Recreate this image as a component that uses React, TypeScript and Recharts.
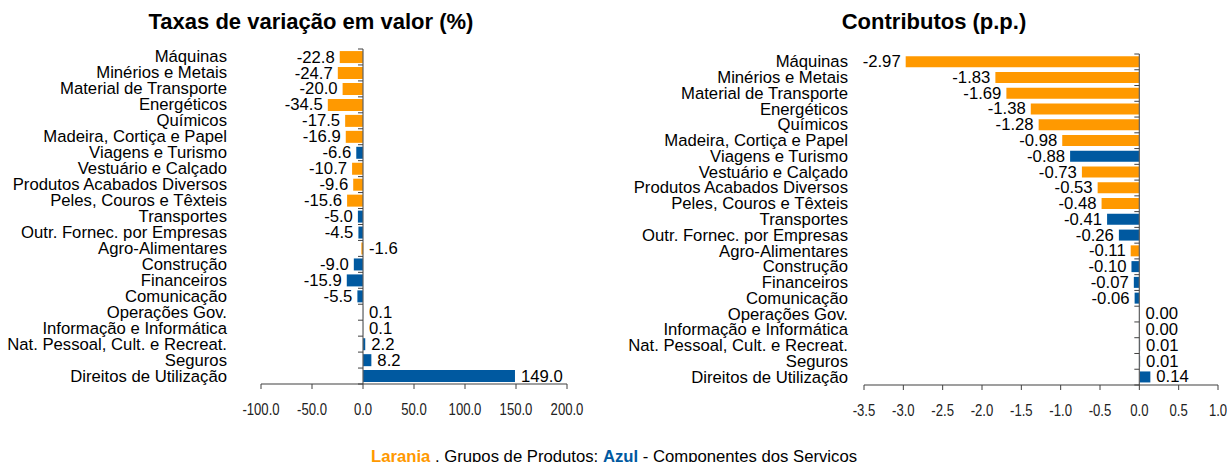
import React from "react";
import { BarChart, Bar, XAxis, YAxis, Cell, LabelList, ReferenceLine } from "recharts";

const categories = [
  "Máquinas",
  "Minérios e Metais",
  "Material de Transporte",
  "Energéticos",
  "Químicos",
  "Madeira, Cortiça e Papel",
  "Viagens e Turismo",
  "Vestuário e Calçado",
  "Produtos Acabados Diversos",
  "Peles, Couros e Têxteis",
  "Transportes",
  "Outr. Fornec. por Empresas",
  "Agro-Alimentares",
  "Construção",
  "Financeiros",
  "Comunicação",
  "Operações Gov.",
  "Informação e Informática",
  "Nat. Pessoal, Cult. e Recreat.",
  "Seguros",
  "Direitos de Utilização",
];

// P = Grupos de Produtos (laranja), S = Componentes dos Serviços (azul)
const groups = ["P", "P", "P", "P", "P", "P", "S", "P", "P", "P", "S", "S", "P", "S", "S", "S", "S", "S", "S", "S", "S"];

const rateValues = [-22.8, -24.7, -20.0, -34.5, -17.5, -16.9, -6.6, -10.7, -9.6, -15.6, -5.0, -4.5, -1.6, -9.0, -15.9, -5.5, 0.1, 0.1, 2.2, 8.2, 149.0];
const contribValues = [-2.97, -1.83, -1.69, -1.38, -1.28, -0.98, -0.88, -0.73, -0.53, -0.48, -0.41, -0.26, -0.11, -0.1, -0.07, -0.06, 0.002, 0.002, 0.01, 0.01, 0.14];

const rateTicks = [-100, -50, 0, 50, 100, 150, 200];
const contribTicks = [-3.5, -3.0, -2.5, -2.0, -1.5, -1.0, -0.5, 0.0, 0.5, 1.0];

// labels shown to the right of the axis although negative (as in the source)
const rateLabelsRight = ["Agro-Alimentares"];
const contribLabelsRight: string[] = [];

const ORANGE = "#FF9900";
const BLUE = "#0059A0";
const FONT = "'Liberation Sans', Arial, sans-serif";
const TXT = 16.7;

const rateData = categories.map((name, i) => ({ name, value: rateValues[i], group: groups[i] }));
const contribData = categories.map((name, i) => ({ name, value: contribValues[i], group: groups[i] }));

const AxisWithTicks = (props: any) => {
  const { x1, y1, x2, y2 } = props;
  const n = categories.length;
  const top = Math.min(y1, y2);
  const bottom = Math.max(y1, y2);
  const step = (bottom - top) / n;
  const marks = [];
  for (let i = 0; i <= n; i++) {
    const y = top + i * step;
    marks.push(<line key={i} x1={x1 - 5} x2={x1} y1={y} y2={y} stroke="#404040" strokeWidth={1} />);
  }
  return (
    <g>
      <line x1={x1} y1={top} x2={x2} y2={bottom} stroke="#606060" strokeWidth={1.2} />
      {marks}
    </g>
  );
};

const NarrowTick = (p: any) => (
  <text
    x={0}
    y={0}
    dy="0.71em"
    transform={`translate(${p.x},${p.y}) scale(0.82,1)`}
    textAnchor="middle"
    fontFamily={FONT}
    fontSize={16}
    fill="#222"
  >
    {Number(p.payload.value).toFixed(1)}
  </text>
);

type PanelProps = {
  data: { name: string; value: number; group: string }[];
  ticks: number[];
  decimals: number;
  width: number;
  height: number;
  margin: { top: number; right: number; bottom: number; left: number };
  yAxisWidth: number;
  catGap: number;
  gap: string;
  rightNames: string[];
};

const Panel = ({ data, ticks, decimals, width, height, margin, yAxisWidth, catGap, gap, rightNames }: PanelProps) => {
  const renderCatTick = (p: any) => (
    <text x={p.x} y={p.y} textAnchor="end" dominantBaseline="central" fontFamily={FONT} fontSize={TXT} fill="#000">
      {p.payload.value}
    </text>
  );

  const renderValueLabel = (p: any) => {
    const { x, y, width: w, height: h, value, index } = p;
    const left = Math.min(x, x + w);
    const right = Math.max(x, x + w);
    const cy = y + h / 2;
    const name = data[index]?.name;
    const text = Number(value).toFixed(decimals);
    if (value < 0 && !rightNames.includes(name)) {
      return (
        <text x={left - 5} y={cy} textAnchor="end" dominantBaseline="central" fontFamily={FONT} fontSize={TXT} fill="#000">
          {text}
        </text>
      );
    }
    return (
      <text x={right + 6} y={cy} textAnchor="start" dominantBaseline="central" fontFamily={FONT} fontSize={TXT} fill="#000">
        {text}
      </text>
    );
  };

  return (
    <BarChart width={width} height={height} data={data} layout="vertical" margin={margin} barCategoryGap={gap}>
      <XAxis
        type="number"
        domain={[ticks[0], ticks[ticks.length - 1]]}
        ticks={ticks}
        interval={0}
        allowDataOverflow
        axisLine={{ stroke: "#404040", strokeWidth: 1.2 }}
        tickLine={{ stroke: "#404040" }}
        tickSize={5}
        tickMargin={15}
        height={30}
        tick={NarrowTick}
      />
      <YAxis
        type="category"
        dataKey="name"
        width={yAxisWidth}
        axisLine={false}
        tickLine={false}
        tickSize={0}
        tickMargin={catGap}
        interval={0}
        tick={renderCatTick}
      />
      <Bar dataKey="value" isAnimationActive={false}>
        {data.map((d, i) => (
          <Cell key={i} fill={d.group === "P" ? ORANGE : BLUE} />
        ))}
        <LabelList dataKey="value" content={renderValueLabel} />
      </Bar>
      <ReferenceLine x={0} shape={AxisWithTicks} />
    </BarChart>
  );
};

const titleStyle: React.CSSProperties = {
  position: "absolute",
  top: 9,
  textAlign: "center",
  fontFamily: FONT,
  fontWeight: "bold",
  fontSize: 22,
  lineHeight: "26px",
  color: "#000",
  whiteSpace: "nowrap",
};

export default function App() {
  return (
    <div style={{ position: "absolute", left: 0, top: 0, width: 1227, height: 462, background: "#fff", overflow: "hidden" }}>
      <div style={{ ...titleStyle, left: 0, width: 622 }}>Taxas de variação em valor (%)</div>
      <div style={{ ...titleStyle, left: 640, width: 588 }}>Contributos (p.p.)</div>

      <div style={{ position: "absolute", left: 0, top: 0 }}>
        <Panel
          data={rateData}
          ticks={rateTicks}
          decimals={1}
          width={600}
          height={462}
          margin={{ top: 49, right: 33, bottom: 48, left: 0 }}
          yAxisWidth={261}
          catGap={34}
          gap="13%"
          rightNames={rateLabelsRight}
        />
      </div>
      <div style={{ position: "absolute", left: 620, top: 0 }}>
        <Panel
          data={contribData}
          ticks={contribTicks}
          decimals={2}
          width={607}
          height={462}
          margin={{ top: 54, right: 9, bottom: 47, left: 0 }}
          yAxisWidth={244}
          catGap={16}
          gap="14%"
          rightNames={contribLabelsRight}
        />
      </div>

      <div
        style={{
          position: "absolute",
          left: 0,
          width: 1228,
          top: 446,
          textAlign: "center",
          fontFamily: FONT,
          fontSize: TXT,
          lineHeight: "22px",
          color: "#000",
          whiteSpace: "nowrap",
        }}
      >
        <span style={{ color: ORANGE, fontWeight: "bold" }}>Larania</span> . Grupos de Produtos;{" "}
        <span style={{ color: BLUE, fontWeight: "bold" }}>Azul</span> - Componentes dos Servicos
      </div>
    </div>
  );
}
